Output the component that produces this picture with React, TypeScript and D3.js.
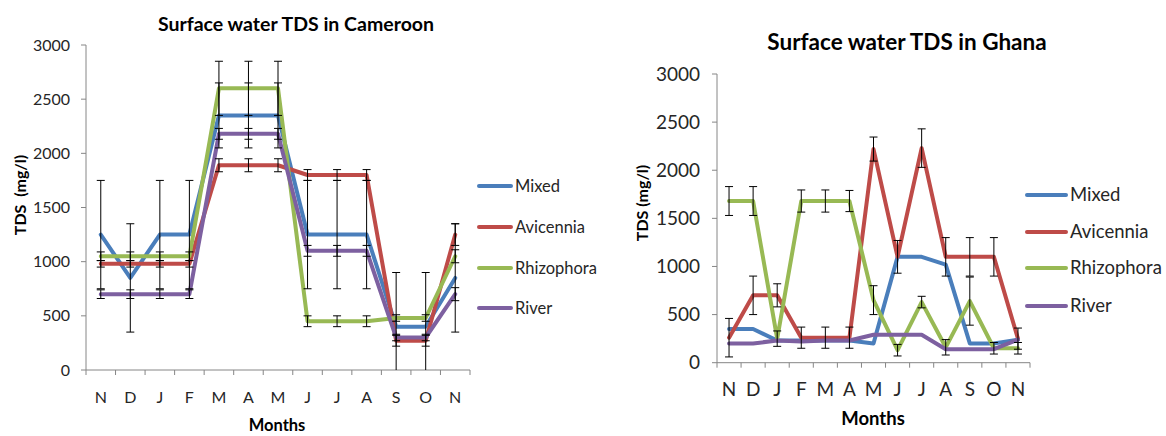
import React from "react";
import * as d3 from "d3";

// Month labels (November to November)
const months = ["N", "D", "J", "F", "M", "A", "M", "J", "J", "A", "S", "O", "N"];
const yTicks = [0, 500, 1000, 1500, 2000, 2500, 3000];
const seriesNames = ["Mixed", "Avicennia", "Rhizophora", "River"];
const seriesColors = ["#4A7EBB", "#BE4B48", "#98B954", "#7D60A0"];

// Cameroon surface water TDS (mg/l) and error half-widths
const camMixed = [1250, 850, 1250, 1250, 2350, 2350, 2350, 1250, 1250, 1250, 400, 400, 850];
const camMixedErr = [500, 500, 500, 500, 300, 300, 300, 500, 500, 500, 500, 500, 500];
const camAvicennia = [980, 980, 980, 980, 1890, 1890, 1890, 1800, 1800, 1800, 270, 270, 1250];
const camAvicenniaErr = [30, 30, 30, 30, 60, 60, 60, 50, 50, 50, 50, 50, 100];
const camRhizophora = [1050, 1050, 1050, 1050, 2600, 2600, 2600, 450, 450, 450, 480, 480, 1050];
const camRhizophoraErr = [40, 40, 40, 40, 250, 250, 250, 50, 50, 50, 30, 30, 60];
const camRiver = [700, 700, 700, 700, 2180, 2180, 2180, 1100, 1100, 1100, 300, 300, 700];
const camRiverErr = [40, 40, 40, 40, 50, 50, 50, 50, 50, 50, 30, 30, 60];

// Ghana surface water TDS (mg/l) and error half-widths
const ghMixed = [350, 350, 230, 230, 230, 230, 200, 1100, 1100, 1020, 200, 200, 240];
const ghMixedErr = [0, 0, 0, 0, 0, 0, 0, 0, 0, 0, 0, 0, 0];
const ghAvicennia = [260, 700, 700, 260, 260, 260, 2220, 1100, 2230, 1100, 1100, 1100, 250];
const ghAvicenniaErr = [200, 200, 120, 110, 110, 110, 125, 170, 200, 200, 200, 200, 110];
const ghRhizophora = [1680, 1680, 250, 1680, 1680, 1680, 650, 130, 630, 160, 640, 150, 150];
const ghRhizophoraErr = [150, 150, 80, 115, 115, 110, 150, 60, 60, 80, 250, 60, 60];
const ghRiver = [200, 200, 230, 220, 230, 230, 290, 290, 290, 140, 140, 140, 240];
const ghRiverErr = [0, 0, 0, 0, 0, 0, 0, 0, 0, 0, 0, 0, 0];

const FONT = "Lato, 'Open Sans', sans-serif";

type PanelCfg = {
  title: string;
  yTitle: string;
  values: number[][];
  errors: number[][];
  x0: number; x1: number; yTop: number; yBot: number;
  titleX: number; titleY: number; titleSize: number;
  tickSize: number; tickLabelRight: number; xLabelY: number;
  yTitleX: number; yTitleY: number; yTitleSize: number;
  monthsX: number; monthsY: number; monthsSize: number;
  legLine0: number; legLine1: number; legText: number; legY: number[]; legSize: number;
  lineWidth: number; capW: number;
};

function Panel({ c }: { c: PanelCfg }) {
  const x = d3.scaleBand<number>().domain(d3.range(months.length)).range([c.x0, c.x1]);
  const y = d3.scaleLinear().domain([0, 3000]).range([c.yBot, c.yTop]);
  const cx = (i: number) => (x(i) as number) + x.bandwidth() / 2;
  const line = d3.line<number>().x((_, i) => cx(i)).y((d) => y(d));
  const axisColor = "#868686";
  const textColor = "#262626";
  return (
    <g fontFamily={FONT}>
      <text x={c.titleX} y={c.titleY} textAnchor="middle" fontWeight="bold" fontSize={c.titleSize} fill="#000">
        {c.title}
      </text>
      {/* value axis */}
      <line x1={c.x0} x2={c.x0} y1={c.yTop} y2={c.yBot} stroke={axisColor} />
      {yTicks.map((t) => (
        <g key={t}>
          <line x1={c.x0 - 5} x2={c.x0} y1={y(t)} y2={y(t)} stroke={axisColor} />
          <text x={c.tickLabelRight} y={y(t)} dy="0.35em" textAnchor="end" fontSize={c.tickSize} fill={textColor}>
            {t}
          </text>
        </g>
      ))}
      {/* category axis */}
      <line x1={c.x0} x2={c.x1} y1={c.yBot} y2={c.yBot} stroke={axisColor} />
      {d3.range(months.length + 1).map((i) => {
        const xx = c.x0 + i * x.step();
        return <line key={i} x1={xx} x2={xx} y1={c.yBot} y2={c.yBot + 5} stroke={axisColor} />;
      })}
      {months.map((m, i) => (
        <text key={i} x={cx(i)} y={c.xLabelY} dy="0.35em" textAnchor="middle" fontSize={c.tickSize} fill={textColor}>
          {m}
        </text>
      ))}
      <text
        transform={`translate(${c.yTitleX},${c.yTitleY}) rotate(-90)`}
        textAnchor="middle"
        dy="0.35em"
        fontWeight="bold"
        fontSize={c.yTitleSize}
        fill="#000"
        style={{ whiteSpace: "pre" }}
      >
        {c.yTitle}
      </text>
      <text x={c.monthsX} y={c.monthsY} dy="0.35em" textAnchor="middle" fontWeight="bold" fontSize={c.monthsSize} fill="#000">
        Months
      </text>
      {/* series lines */}
      {c.values.map((vals, s) => (
        <path key={s} d={line(vals) as string} fill="none" stroke={seriesColors[s]} strokeWidth={c.lineWidth} strokeLinejoin="round" strokeLinecap="round" />
      ))}
      {/* error bars */}
      {c.values.map((vals, s) =>
        vals.map((v, i) => {
          const e = c.errors[s][i];
          if (!e) return null;
          const hi = Math.min(3000, v + e);
          const lo = Math.max(0, v - e);
          const xx = cx(i);
          return (
            <g key={`${s}-${i}`} stroke="#000" strokeWidth={1}>
              <line x1={xx} x2={xx} y1={y(hi)} y2={y(lo)} />
              {v + e <= 3000 && <line x1={xx - c.capW} x2={xx + c.capW} y1={y(hi)} y2={y(hi)} />}
              {v - e >= 0 && <line x1={xx - c.capW} x2={xx + c.capW} y1={y(lo)} y2={y(lo)} />}
            </g>
          );
        })
      )}
      {/* legend */}
      {seriesNames.map((n, s) => (
        <g key={n}>
          <line x1={c.legLine0} x2={c.legLine1} y1={c.legY[s]} y2={c.legY[s]} stroke={seriesColors[s]} strokeWidth={c.lineWidth} strokeLinecap="round" />
          <text x={c.legText} y={c.legY[s]} dy="0.35em" fontSize={c.legSize} fill={textColor}>
            {n}
          </text>
        </g>
      ))}
    </g>
  );
}

const cameroon: PanelCfg = {
  title: "Surface water TDS in Cameroon",
  yTitle: "TDS  (mg/l)",
  values: [camMixed, camAvicennia, camRhizophora, camRiver],
  errors: [camMixedErr, camAvicenniaErr, camRhizophoraErr, camRiverErr],
  x0: 86, x1: 470, yTop: 45, yBot: 370,
  titleX: 296, titleY: 31, titleSize: 19.5,
  tickSize: 16, tickLabelRight: 70, xLabelY: 397,
  yTitleX: 20, yTitleY: 195, yTitleSize: 16,
  monthsX: 277, monthsY: 425, monthsSize: 16.5,
  legLine0: 479, legLine1: 511, legText: 515, legY: [186, 227, 268, 308], legSize: 16.5,
  lineWidth: 4, capW: 4,
};

const ghana: PanelCfg = {
  title: "Surface water TDS in Ghana",
  yTitle: "TDS (mg/l)",
  values: [ghMixed, ghAvicennia, ghRhizophora, ghRiver],
  errors: [ghMixedErr, ghAvicenniaErr, ghRhizophoraErr, ghRiverErr],
  x0: 717, x1: 1030, yTop: 74, yBot: 362.7,
  titleX: 907, titleY: 50, titleSize: 22.5,
  tickSize: 19, tickLabelRight: 700, xLabelY: 389,
  yTitleX: 642, yTitleY: 203, yTitleSize: 16,
  monthsX: 873, monthsY: 419, monthsSize: 18.5,
  legLine0: 1027, legLine1: 1066, legText: 1070, legY: [195, 232, 268, 306], legSize: 18.5,
  lineWidth: 4, capW: 4,
};

export default function App() {
  return (
    <svg width={1166} height={436} style={{ position: "absolute", left: 0, top: 0, background: "#fff" }}>
      <rect width={1166} height={436} fill="#fff" />
      <Panel c={cameroon} />
      <Panel c={ghana} />
    </svg>
  );
}
